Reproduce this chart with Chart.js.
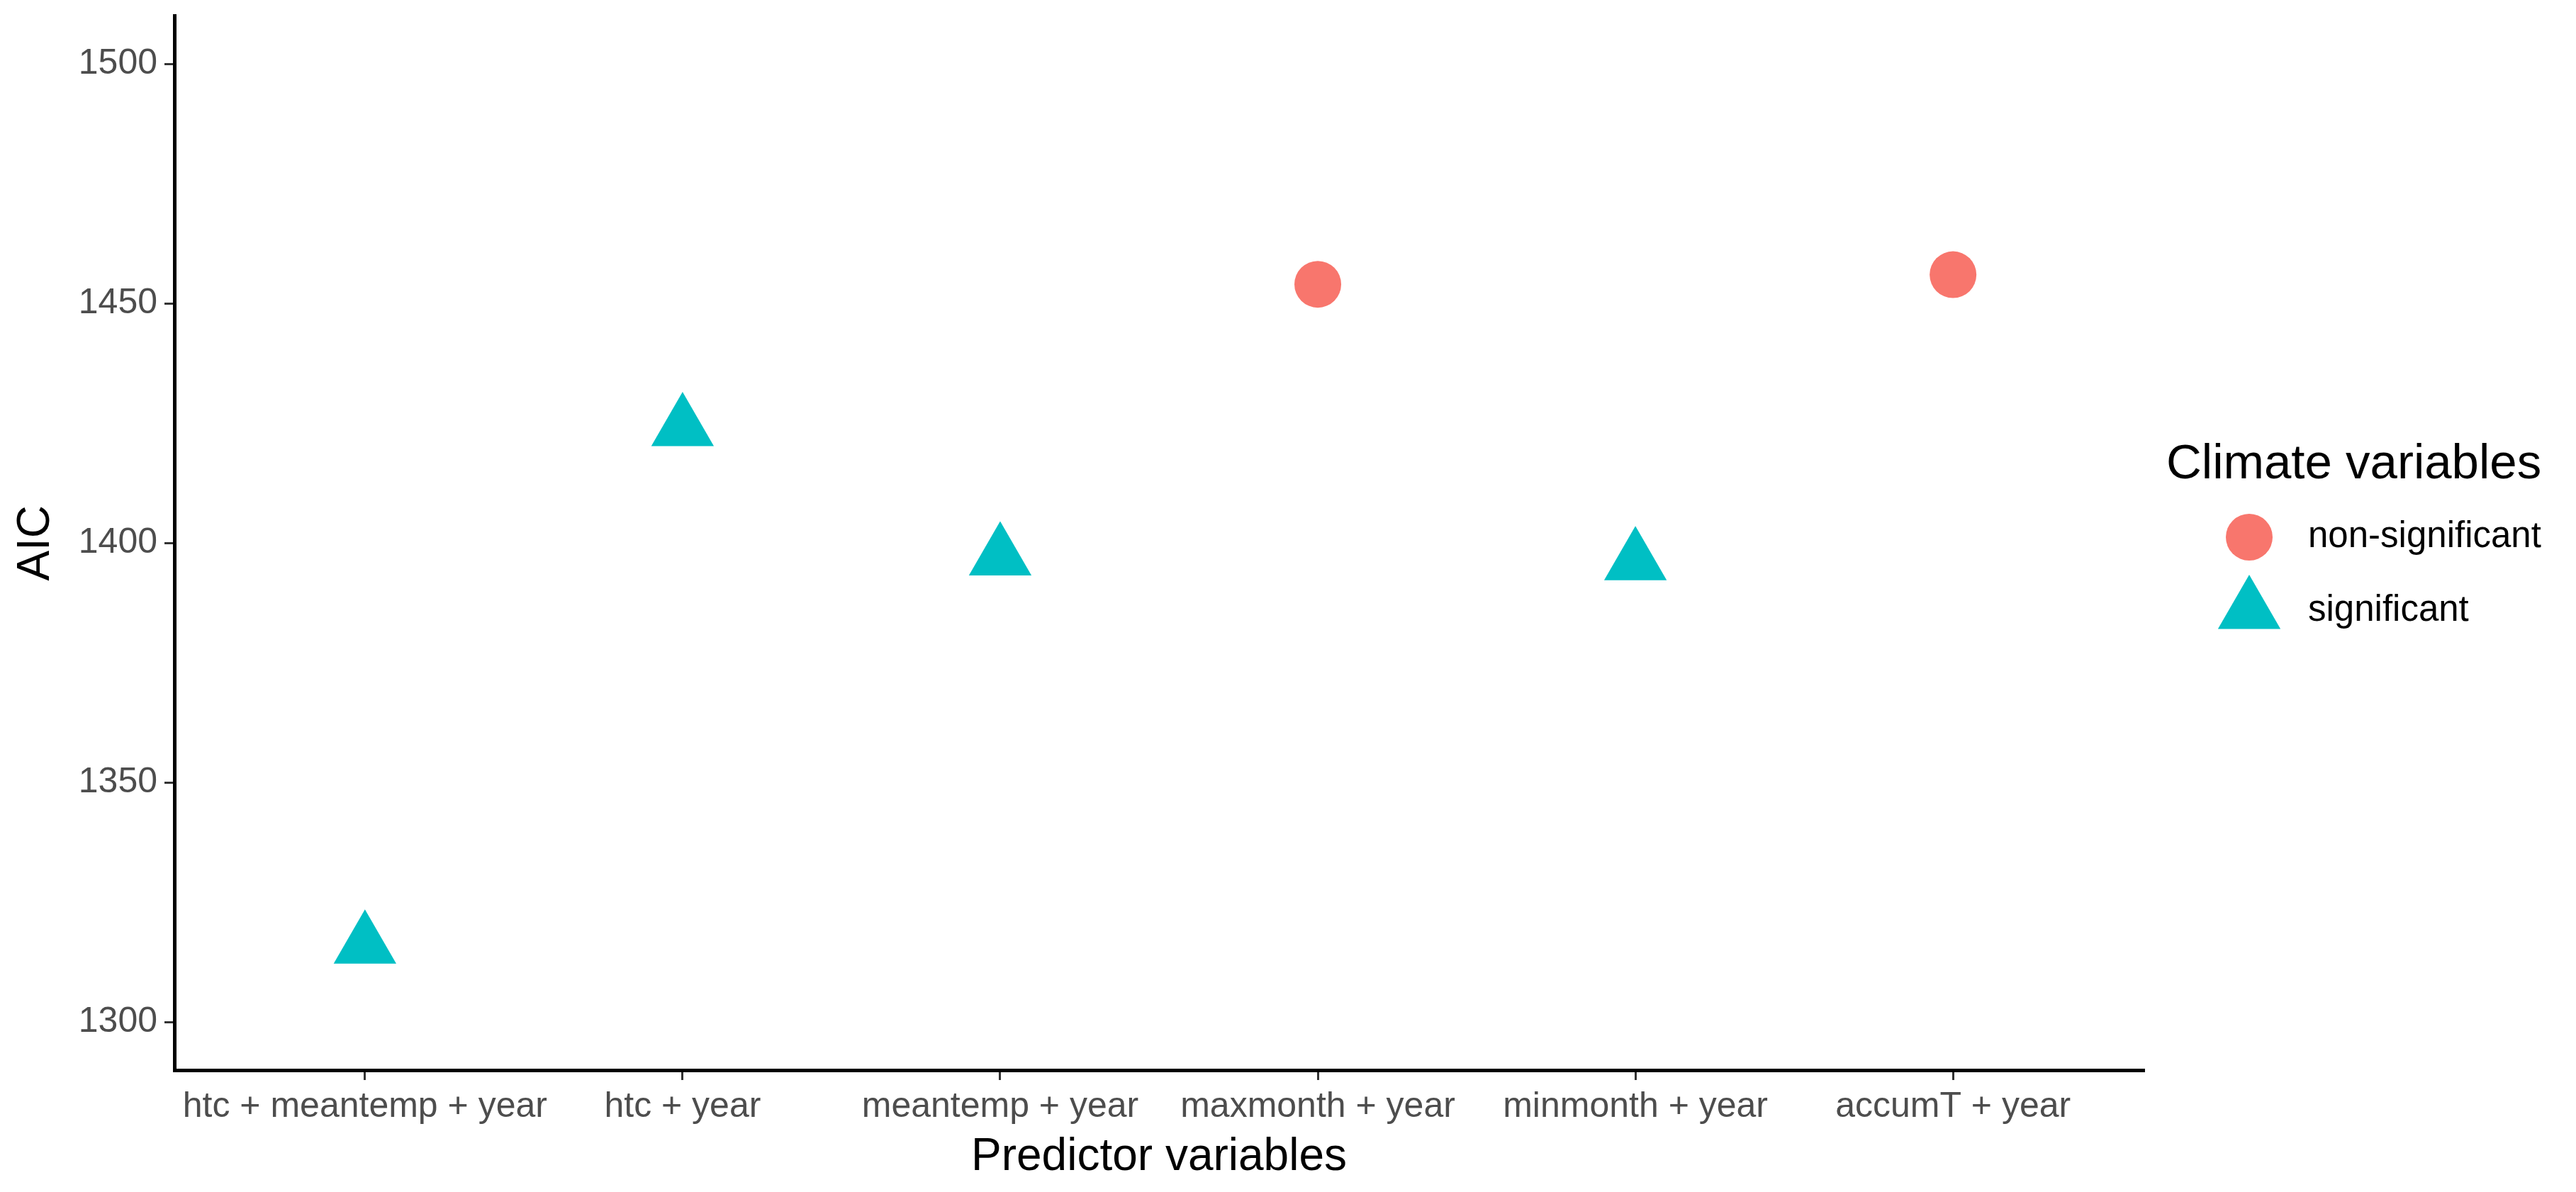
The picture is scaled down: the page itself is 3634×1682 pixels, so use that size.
<!DOCTYPE html>
<html>
<head>
<meta charset="utf-8">
<script src="https://cdn.jsdelivr.net/npm/chart.js@4.4.1/dist/chart.umd.min.js"></script>
<style>
  html, body { margin: 0; padding: 0; background: #fff; }
</style>
</head>
<body>
<canvas id="aicChart" width="3634" height="1682"></canvas>
<script>
// DATA
const predictors = ["htc + meantemp + year", "htc + year", "meantemp + year", "maxmonth + year", "minmonth + year", "accumT + year"];
const aicValues = [1316, 1424, 1397, 1454, 1396, 1456];
const significance = ["significant", "significant", "significant", "non-significant", "significant", "non-significant"];
const groups = ["non-significant", "significant"];
const groupColors = ["#F8766D", "#00BFC4"];
const groupShapes = ["circle", "triangle"];
const groupRadius = [33, 51];
const yTicks = [1300, 1350, 1400, 1450, 1500];
const legendTitle = "Climate variables";

Chart.defaults.font.family = '"Liberation Sans", Arial, sans-serif';

// one dataset per group, x = category index
let datasets = groups.map((g, gi) => ({
  label: g,
  data: predictors
    .map((p, i) => ({ x: i, y: aicValues[i], sig: significance[i] }))
    .filter((d) => d.sig == g),
  pointStyle: groupShapes[gi],
  pointRadius: groupRadius[gi],
  backgroundColor: groupColors[gi],
  borderWidth: 0,
}));

//legend drawn at the right, ggplot style
const sideLegend = {
  id: "sideLegend",
  afterDraw(chart) {
    let ctx = chart.ctx;
    ctx.save();
    ctx.textBaseline = "middle";
    ctx.textAlign = "left";
    ctx.fillStyle = "#000";
    ctx.font = '69px "Liberation Sans", Arial, sans-serif';
    ctx.fillText(legendTitle, 3056, 656);
    ctx.font = '51px "Liberation Sans", Arial, sans-serif';
    groups.forEach((g, i) => {
      let y = 758 + i * 104;
      ctx.fillStyle = groupColors[i];
      Chart.helpers.drawPoint(ctx, { pointStyle: groupShapes[i], radius: groupRadius[i], borderWidth: 0 }, 3173, y);
      ctx.fillStyle = "#000";
      ctx.fillText(g, 3256, y);
    });
    ctx.restore();
  },
};

new Chart(document.getElementById("aicChart"), {
  type: "scatter",
  data: { datasets: datasets },
  plugins: [sideLegend],
  options: {
    responsive: false,
    animation: false,
    // big markers would otherwise add extra padding around the plot
    layout: { autoPadding: false, padding: { top: 22, right: 610, left: 0, bottom: 0 } },
    plugins: { legend: { display: false }, tooltip: { enabled: false } },
    scales: {
      x: {
        type: "linear",
        min: -0.6,
        max: 5.6,
        afterBuildTicks: (s) => {
          s.ticks = predictors.map((p, i) => ({ value: i }));
        },
        afterFit: (s) => {
          s.height = 1682 - 1510;
        },
        ticks: {
          callback: (v) => predictors[v],
          font: { size: 50 },
          color: "#4D4D4D",
          padding: 8,
          maxRotation: 0,
          autoSkip: false,
        },
        grid: { drawOnChartArea: false, drawTicks: true, tickLength: 14, color: "#333333", lineWidth: 3 },
        border: { display: true, color: "#000", width: 5 },
        title: {
          display: true,
          text: "Predictor variables",
          color: "#000",
          font: { size: 64, lineHeight: 1 },
          padding: { top: 0, bottom: 17 },
        },
      },
      y: {
        min: 1290,
        max: 1510,
        afterBuildTicks: (s) => {
          s.ticks = yTicks.map((v) => ({ value: v }));
        },
        afterFit: (s) => {
          s.width = 246;
        },
        ticks: { callback: (v) => String(v), font: { size: 50, lineHeight: 0.5 }, color: "#4D4D4D", padding: 10 },
        grid: { drawOnChartArea: false, drawTicks: true, tickLength: 14, color: "#333333", lineWidth: 3 },
        border: { display: true, color: "#000", width: 5 },
        title: {
          display: true,
          text: "AIC",
          color: "#000",
          font: { size: 64, lineHeight: 1 },
          padding: { top: 19, bottom: 0 },
        },
      },
    },
  },
});
</script>
</body>
</html>
